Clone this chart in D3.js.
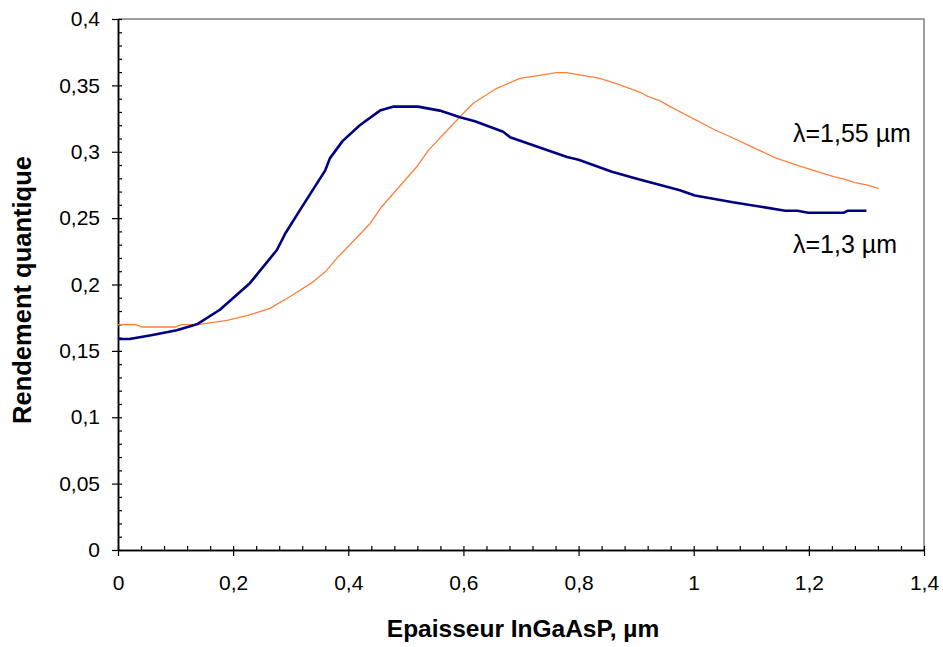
<!DOCTYPE html>
<html>
<head>
<meta charset="utf-8">
<script src="https://cdn.jsdelivr.net/npm/d3@7"></script>
<style>
  html, body { margin: 0; padding: 0; background: #fff; }
  svg { display: block; font-family: "Liberation Sans", Arial, sans-serif; }
</style>
</head>
<body>
<svg id="chart" width="943" height="647"></svg>
<script>
// ---- data ----
const xTickValues = [0, 0.2, 0.4, 0.6, 0.8, 1, 1.2, 1.4];
const xTickLabels = ["0", "0,2", "0,4", "0,6", "0,8", "1", "1,2", "1,4"];
const yTickValues = [0, 0.05, 0.1, 0.15, 0.2, 0.25, 0.3, 0.35, 0.4];
const yTickLabels = ["0", "0,05", "0,1", "0,15", "0,2", "0,25", "0,3", "0,35", "0,4"];

const blueX = [0, 0.02, 0.06, 0.102, 0.137, 0.177, 0.229, 0.276, 0.29, 0.316, 0.36, 0.368, 0.39, 0.42, 0.455, 0.479, 0.521, 0.559, 0.594, 0.62, 0.669, 0.681, 0.78, 0.8, 0.858, 0.898, 0.924, 0.976, 1.002, 1.068, 1.159, 1.18, 1.199, 1.26, 1.268, 1.30];
const blueY = [0.159, 0.159, 0.162, 0.1655, 0.170, 0.181, 0.201, 0.226, 0.238, 0.256, 0.286, 0.295, 0.308, 0.320, 0.331, 0.334, 0.334, 0.331, 0.326, 0.323, 0.315, 0.311, 0.296, 0.294, 0.285, 0.280, 0.277, 0.271, 0.267, 0.262, 0.2556, 0.2556, 0.254, 0.254, 0.2556, 0.2556];

const orangeX = [0, 0.031, 0.041, 0.1, 0.11, 0.142, 0.189, 0.224, 0.264, 0.299, 0.339, 0.362, 0.380, 0.394, 0.438, 0.458, 0.519, 0.539, 0.594, 0.617, 0.658, 0.698, 0.762, 0.779, 0.837, 0.872, 0.907, 0.921, 0.941, 0.959, 1.037, 1.057, 1.1, 1.141, 1.179, 1.243, 1.26, 1.28, 1.30, 1.321];
const orangeY = [0.1697, 0.1697, 0.168, 0.168, 0.1697, 0.170, 0.173, 0.1765, 0.182, 0.191, 0.202, 0.2104, 0.2197, 0.226, 0.246, 0.2586, 0.2887, 0.301, 0.3264, 0.3365, 0.3478, 0.3553, 0.3596, 0.3596, 0.3553, 0.3503, 0.3448, 0.3415, 0.3385, 0.334, 0.3164, 0.3126, 0.3038, 0.2956, 0.290, 0.2812, 0.2795, 0.2767, 0.275, 0.2725];

const seriesNames = ["\u03bb=1,55 \u00b5m", "\u03bb=1,3 \u00b5m"];
const xTitle = "Epaisseur InGaAsP, \u00b5m";
const yTitle = "Rendement quantique";

// ---- layout ----
const W = 943, H = 647;
const plotL = 118, plotT = 19, plotR = 924, plotB = 550;

const svg = d3.select("#chart");
const x = d3.scaleLinear().domain([0, 1.4]).range([plotL, plotR]);
const y = d3.scaleLinear().domain([0, 0.4]).range([plotB, plotT]);

// frame (top & right in gray)
svg.append("path")
  .attr("d", `M${plotL},${plotT}H${plotR}V${plotB}`)
  .attr("fill", "none").attr("stroke", "#808080").attr("stroke-width", 1.5);

// minor ticks
const xMinor = d3.range(0, 1.4001, 0.04);
const yMinor = d3.range(0, 0.4001, 0.01);

// y axis
const yAxisOut = d3.axisLeft(y).tickValues(yTickValues)
  .tickFormat((d, i) => yTickLabels[i]).tickSizeInner(6).tickSizeOuter(0).tickPadding(12);
const gy = svg.append("g").attr("transform", `translate(${plotL},0)`).call(yAxisOut);
gy.selectAll("text").attr("font-size", 21).attr("fill", "#000").attr("font-family", "Liberation Sans, Arial, sans-serif");
const yAxisIn = d3.axisLeft(y).tickValues(yMinor).tickFormat("").tickSizeInner(-4).tickSizeOuter(0);
svg.append("g").attr("transform", `translate(${plotL},0)`).call(yAxisIn);

// x axis
const xAxisOut = d3.axisBottom(x).tickValues(xTickValues)
  .tickFormat((d, i) => xTickLabels[i]).tickSizeInner(6).tickSizeOuter(0).tickPadding(19);
const gx = svg.append("g").attr("transform", `translate(0,${plotB})`).call(xAxisOut);
gx.selectAll("text").attr("font-size", 21).attr("fill", "#000").attr("font-family", "Liberation Sans, Arial, sans-serif");
const xAxisIn = d3.axisBottom(x).tickValues(xMinor).tickFormat("").tickSizeInner(-4).tickSizeOuter(0);
svg.append("g").attr("transform", `translate(0,${plotB})`).call(xAxisIn);

svg.selectAll(".domain").attr("stroke", "#000").attr("stroke-width", 1.5);
svg.selectAll(".tick line").attr("stroke", "#000").attr("stroke-width", 1.2);

// lines
const line = d3.line().x(d => x(d[0])).y(d => y(d[1]));
const orangeData = orangeX.map((v, i) => [v, orangeY[i]]);
const blueData = blueX.map((v, i) => [v, blueY[i]]);

svg.append("path").datum(orangeData).attr("d", line)
  .attr("fill", "none").attr("stroke", "#ff7f3a").attr("stroke-width", 1.3).attr("stroke-linejoin", "round");
svg.append("path").datum(blueData).attr("d", line)
  .attr("fill", "none").attr("stroke", "#000080").attr("stroke-width", 2.6).attr("stroke-linejoin", "round");

// series labels
svg.append("text").attr("x", 793).attr("y", 142).attr("font-size", 25).attr("fill", "#000").text(seriesNames[0]);
svg.append("text").attr("x", 793).attr("y", 253).attr("font-size", 25).attr("fill", "#000").text(seriesNames[1]);

// axis titles
svg.append("text").attr("x", 523).attr("y", 637).attr("text-anchor", "middle")
  .attr("font-size", 24.5).attr("font-weight", "bold").attr("fill", "#000").text(xTitle);
svg.append("text").attr("transform", "translate(31,290) rotate(-90)").attr("text-anchor", "middle")
  .attr("font-size", 25.5).attr("font-weight", "bold").attr("fill", "#000").text(yTitle);
</script>
</body>
</html>
